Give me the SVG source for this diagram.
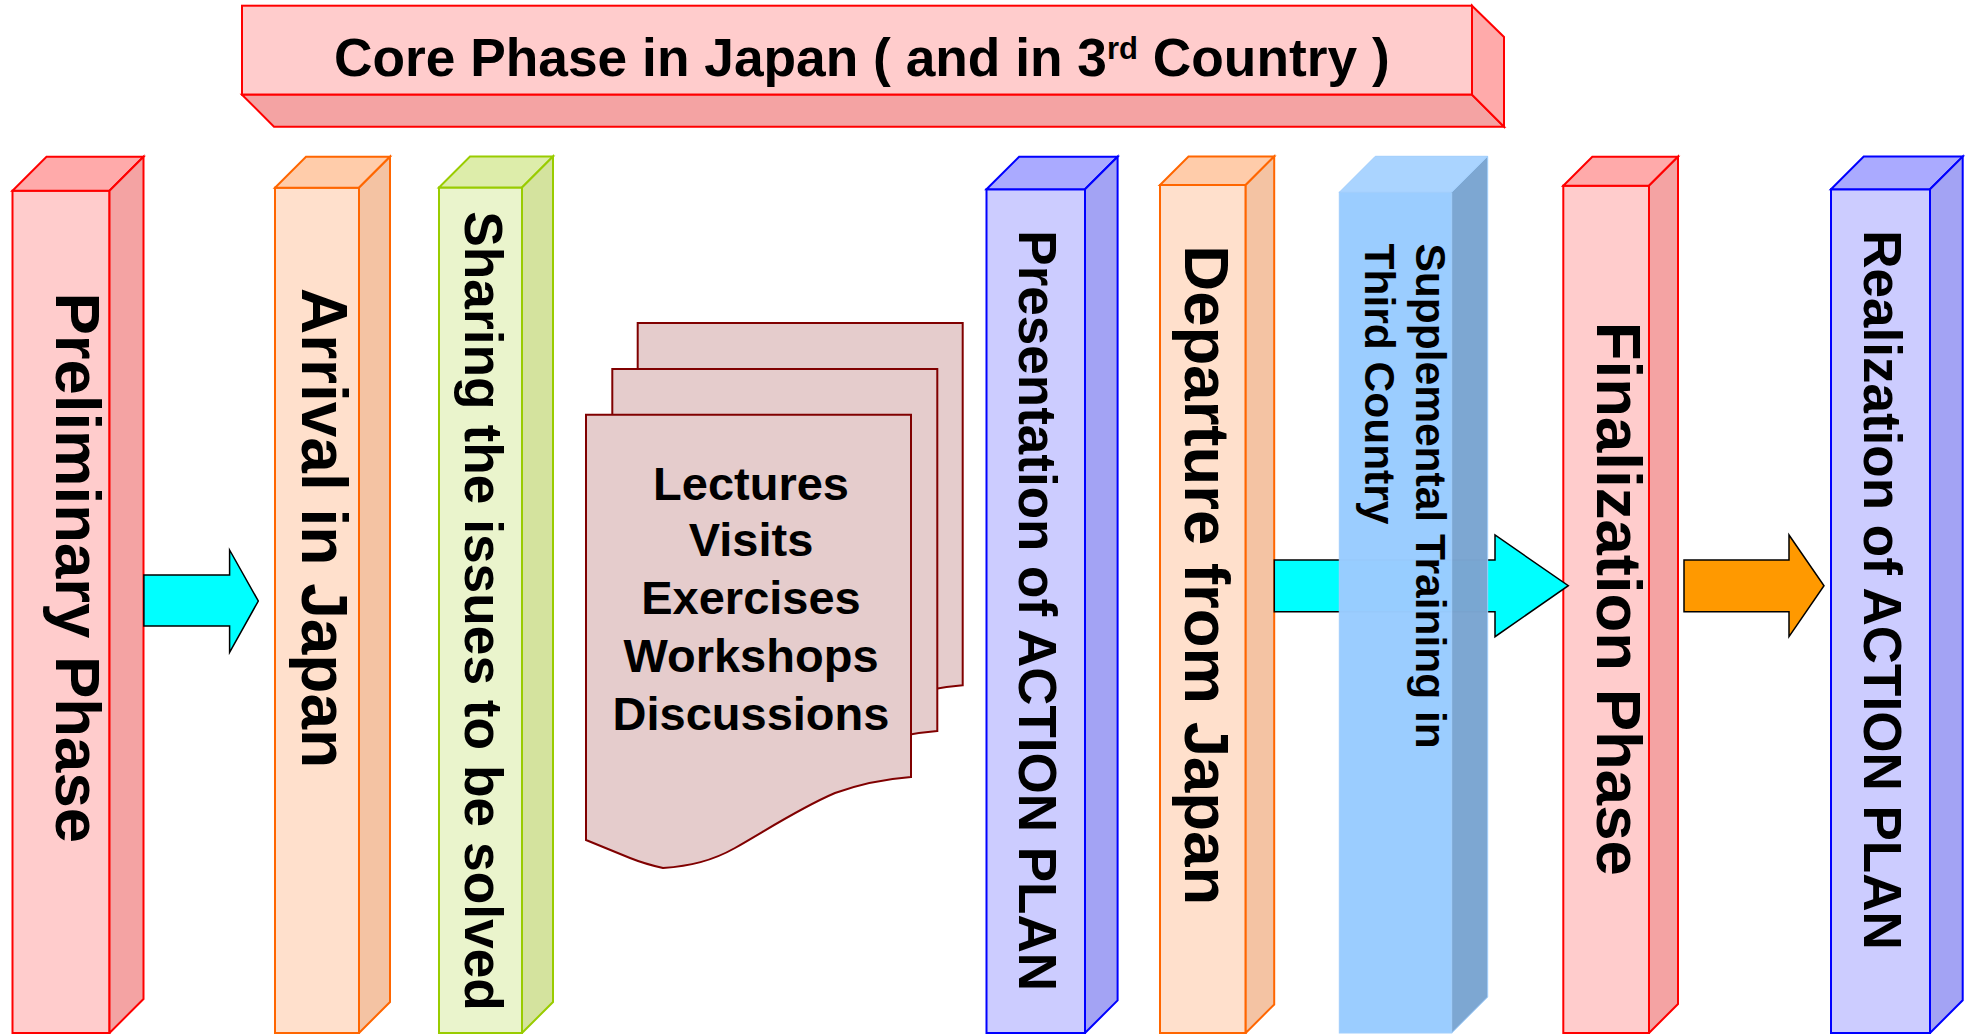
<svg xmlns="http://www.w3.org/2000/svg" width="1968" height="1034" viewBox="0 0 1968 1034">
<style>
text{font-family:"Liberation Sans",Arial,sans-serif;font-weight:bold;fill:#000}
.red{stroke:#FF0000;stroke-width:2;stroke-linejoin:miter}
.red .f{fill:#FFCCCC}.red .t{fill:#FFAAAA}.red .s{fill:#F4A3A3}
.org{stroke:#FF6600;stroke-width:2}
.org .f{fill:#FFE0CC}.org .t{fill:#FFCCAA}.org .s{fill:#F4C3A3}
.grn{stroke:#99CC00;stroke-width:2}
.grn .f{fill:#EAF4CC}.grn .t{fill:#DDEDAA}.grn .s{fill:#D4E39E}
.blu{stroke:#0000FF;stroke-width:2}
.blu .f{fill:#CCCCFF}.blu .t{fill:#AAAAFF}.blu .s{fill:#A3A3F4}
.sky{stroke:#A0CEFC;stroke-width:1}
.sky .f{fill:#99CCFF;fill-opacity:0.985}.sky .t{fill:#AAD4FF}.sky .s{fill:#7BA6D1;fill-opacity:0.985}
.doc{fill:#E5CCCC;stroke:#800000;stroke-width:2}
.arr{stroke:#000;stroke-width:1.5;stroke-linejoin:miter}
.cyan{fill:#00FFFF}.orange{fill:#FF9900}
</style>
<defs>
<path id="docSheet" d="M586,414.8 H911 V777 C885,779 860,784 835,793 C800,808 770,828 735,848 C712,861 690,866 663,868 Q645,864 630,858 L586,840 Z"/>
</defs>

<g id="banner" class="red">
<rect class="f" x="242" y="5.7" width="1230" height="89"/>
<polygon class="s" points="242,94.7 1472,94.7 1504,126.7 274,126.7"/>
<polygon class="t" points="1472,5.7 1504,37 1504,126.7 1472,94.7"/>
<text x="334" y="75.5" font-size="53.3" stroke="none">Core Phase in Japan ( and in 3<tspan font-size="31" dy="-17">rd</tspan><tspan dy="17"> Country )</tspan></text>
</g>

<g id="preliminary" class="red">
<rect class="f" x="12.5" y="190.7" width="97" height="842.3"/>
<polygon class="t" points="12.5,190.7 46.5,156.7 143.5,156.7 109.5,190.7"/>
<polygon class="s" points="109.5,190.7 143.5,156.7 143.5,999 109.5,1033"/>
<text transform="translate(55.5,567.7) rotate(90)" text-anchor="middle" font-size="63.5" stroke="none">Preliminary Phase</text>
</g>

<g id="arrival" class="org">
<rect class="f" x="275" y="187.7" width="84" height="845.3"/>
<polygon class="t" points="275,187.7 306,156.7 390,156.7 359,187.7"/>
<polygon class="s" points="359,187.7 390,156.7 390,1002 359,1033"/>
<text transform="translate(302.3,528) rotate(90)" text-anchor="middle" font-size="64" stroke="none">Arrival in Japan</text>
</g>

<g id="sharing" class="grn">
<rect class="f" x="439" y="187.5" width="83" height="845.5"/>
<polygon class="t" points="439,187.5 470,156.5 553,156.5 522,187.5"/>
<polygon class="s" points="522,187.5 553,156.5 553,1002 522,1033"/>
<text transform="translate(464.5,611) rotate(90)" text-anchor="middle" font-size="53.3" stroke="none">Sharing the issues to be solved</text>
</g>

<g id="activities">
<use href="#docSheet" class="doc" transform="translate(51.7,-91.8)"/>
<use href="#docSheet" class="doc" transform="translate(26.3,-45.9)"/>
<use href="#docSheet" class="doc"/>
<text x="751" text-anchor="middle" font-size="47"><tspan x="751" y="499.8">Lectures</tspan><tspan x="751" y="556">Visits</tspan><tspan x="751" y="614">Exercises</tspan><tspan x="751" y="672">Workshops</tspan><tspan x="751" y="730">Discussions</tspan></text>
</g>

<g id="presentation" class="blu">
<rect class="f" x="986.5" y="189.3" width="98.5" height="843.7"/>
<polygon class="t" points="986.5,189.3 1019.1,156.7 1117.6,156.7 1085,189.3"/>
<polygon class="s" points="1085,189.3 1117.6,156.7 1117.6,1000.4 1085,1033"/>
<text transform="translate(1019,610.7) rotate(90)" text-anchor="middle" font-size="53" stroke="none">Presentation of ACTION PLAN</text>
</g>

<g id="departure" class="org">
<rect class="f" x="1160" y="185" width="85.7" height="848"/>
<polygon class="t" points="1160,185 1188.5,156.5 1274.2,156.5 1245.7,185"/>
<polygon class="s" points="1245.7,185 1274.2,156.5 1274.2,1004.5 1245.7,1033"/>
<text transform="translate(1185,575.3) rotate(90)" text-anchor="middle" font-size="63.5" stroke="none">Departure from Japan</text>
</g>

<g id="finalization" class="red">
<rect class="f" x="1563.3" y="185.7" width="85.7" height="847.3"/>
<polygon class="t" points="1563.3,185.7 1592.3,156.7 1678,156.7 1649,185.7"/>
<polygon class="s" points="1649,185.7 1678,156.7 1678,1004 1649,1033"/>
<text transform="translate(1597,598.8) rotate(90)" text-anchor="middle" font-size="63.5" stroke="none">Finalization Phase</text>
</g>

<g id="realization" class="blu">
<rect class="f" x="1831" y="189.3" width="99" height="843.7"/>
<polygon class="t" points="1831,189.3 1863.7,156.6 1962.7,156.6 1930,189.3"/>
<polygon class="s" points="1930,189.3 1962.7,156.6 1962.7,1000.3 1930,1033"/>
<text transform="translate(1864.3,590) rotate(90)" text-anchor="middle" font-size="53" stroke="none">Realization of ACTION PLAN</text>
</g>

<g id="connectors" class="arr">
<path class="cyan" d="M143.9,575 H229.6 V550 L258.3,601 L229.6,652.3 V626 H143.9 Z"/>
<path class="cyan" d="M1274.3,560 H1495 V535 L1568.3,585.7 L1495,636.7 V611.7 H1274.3 Z"/>
<path class="orange" d="M1684,560 H1789 V535 L1824,585.7 L1789,636.7 V611.7 H1684 Z"/>
</g>

<g id="supplemental" class="sky">
<rect class="f" x="1339.3" y="192.3" width="112.4" height="840.7"/>
<polygon class="t" points="1339.3,192.3 1375.3,156.3 1487.7,156.3 1451.7,192.3"/>
<polygon class="s" points="1451.7,192.3 1487.7,156.3 1487.7,997 1451.7,1033"/>
<text transform="translate(1416,243.5) rotate(90)" font-size="42.5" stroke="none"><tspan x="0" y="0">Supplemental Training in</tspan><tspan x="0" y="51">Third Country</tspan></text>
</g>
</svg>
